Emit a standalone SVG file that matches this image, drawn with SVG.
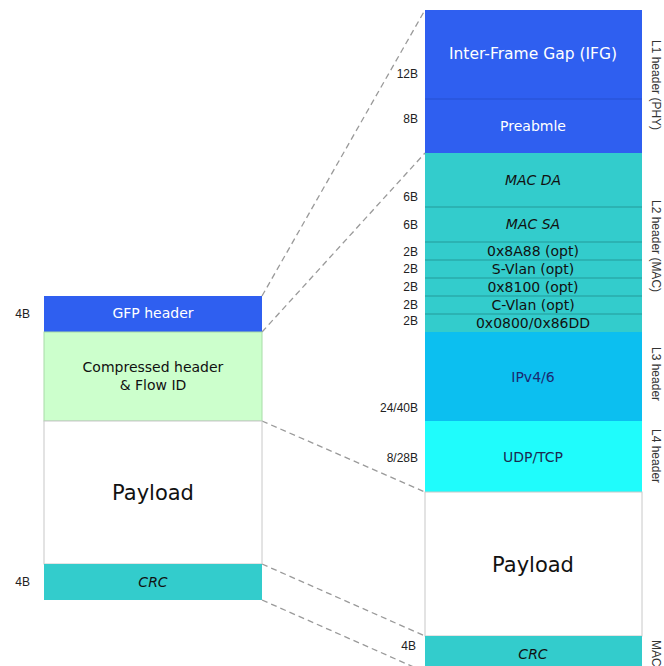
<svg xmlns="http://www.w3.org/2000/svg" width="664" height="666" viewBox="0 0 664 666">
<style>
.lbl{font-family:"Liberation Sans",Arial,sans-serif;font-size:12px;fill:#222;text-anchor:end}
.side{font-family:"Liberation Sans",Arial,sans-serif;font-size:12px;fill:#333}
.bt{font-family:"DejaVu Sans","Noto Sans",sans-serif;font-size:14px;text-anchor:middle}
.w{fill:#ffffff}
.d{fill:#111}
.big{font-size:21px}
.ifg{font-size:15.5px}
.conn{stroke:#9a9a9a;stroke-width:1.3;stroke-dasharray:6,4;fill:none}
.sep{stroke:#259a9a;stroke-width:1}
</style>
<rect width="664" height="666" fill="#ffffff"/>
<g id="connectors">
<line class="conn" x1="262" y1="296" x2="425" y2="10"/>
<line class="conn" x1="262" y1="332" x2="425" y2="153"/>
<line class="conn" x1="262" y1="421" x2="425" y2="492"/>
<line class="conn" x1="262" y1="564" x2="425" y2="636"/>
<line class="conn" x1="262" y1="600" x2="425" y2="672"/>
</g>
<g id="gfp-header">
<rect x="44" y="296" width="218" height="36" fill="#2f5ff0"/>
<text class="bt w" x="153" y="318">GFP header</text>
<text class="lbl" x="30" y="318">4B</text>
</g>
<g id="compressed-header">
<rect x="44" y="332" width="218" height="89" fill="#ccffcc" stroke="#a8dca8" stroke-width="1"/>
<text class="bt d" x="153" y="372">Compressed header</text>
<text class="bt d" x="153" y="390">&amp; Flow ID</text>
</g>
<g id="gfp-payload">
<rect x="44" y="421" width="218" height="143" fill="#ffffff" stroke="#c8c8c8" stroke-width="1"/>
<text class="bt d big" x="153" y="500">Payload</text>
</g>
<g id="gfp-crc">
<rect x="44" y="564" width="218" height="36" fill="#33cccc"/>
<text class="bt d" x="153" y="587" font-style="italic">CRC</text>
<text class="lbl" x="30" y="586">4B</text>
</g>
<g id="ifg">
<rect x="425" y="10" width="217" height="89" fill="#2f5ff0"/>
<text class="bt w ifg" x="533" y="59">Inter-Frame Gap (IFG)</text>
<text class="lbl" x="418" y="78">12B</text>
</g>
<g id="preamble">
<rect x="425" y="99" width="217" height="54" fill="#2f5ff0"/>
<line x1="425" y1="99" x2="642" y2="99" stroke="#2650d0" stroke-width="1"/>
<text class="bt w" x="533" y="131">Preabmle</text>
<text class="lbl" x="418" y="123">8B</text>
</g>
<g id="mac-da">
<rect x="425" y="153" width="217" height="54" fill="#33cccc"/>
<text class="bt d" x="533" y="185" font-style="italic">MAC DA</text>
<text class="lbl" x="418" y="201">6B</text>
</g>
<g id="mac-sa">
<rect x="425" y="207" width="217" height="35" fill="#33cccc"/>
<line class="sep" x1="425" y1="207" x2="642" y2="207"/>
<text class="bt d" x="533" y="229" font-style="italic">MAC SA</text>
<text class="lbl" x="418" y="229">6B</text>
</g>
<g id="ethertype-8a88">
<rect x="425" y="242" width="217" height="18" fill="#33cccc"/>
<line class="sep" x1="425" y1="242" x2="642" y2="242"/>
<text class="bt d" x="533" y="256">0x8A88 (opt)</text>
<text class="lbl" x="418" y="256">2B</text>
</g>
<g id="s-vlan">
<rect x="425" y="260" width="217" height="18" fill="#33cccc"/>
<line class="sep" x1="425" y1="260" x2="642" y2="260"/>
<text class="bt d" x="533" y="274">S-Vlan (opt)</text>
<text class="lbl" x="418" y="273">2B</text>
</g>
<g id="ethertype-8100">
<rect x="425" y="278" width="217" height="18" fill="#33cccc"/>
<line class="sep" x1="425" y1="278" x2="642" y2="278"/>
<text class="bt d" x="533" y="292">0x8100 (opt)</text>
<text class="lbl" x="418" y="291">2B</text>
</g>
<g id="c-vlan">
<rect x="425" y="296" width="217" height="18" fill="#33cccc"/>
<line class="sep" x1="425" y1="296" x2="642" y2="296"/>
<text class="bt d" x="533" y="310">C-Vlan (opt)</text>
<text class="lbl" x="418" y="309">2B</text>
</g>
<g id="ethertype-ip">
<rect x="425" y="314" width="217" height="18" fill="#33cccc"/>
<line class="sep" x1="425" y1="314" x2="642" y2="314"/>
<text class="bt d" x="533" y="328">0x0800/0x86DD</text>
<text class="lbl" x="418" y="325">2B</text>
</g>
<g id="ip">
<rect x="425" y="332" width="217" height="89" fill="#0cbff0"/>
<text class="bt" x="533" y="382" fill="#1a2a70">IPv4/6</text>
<text class="lbl" x="418" y="412">24/40B</text>
</g>
<g id="udp-tcp">
<rect x="425" y="421" width="217" height="71" fill="#1ffcfc"/>
<text class="bt" x="533" y="462" fill="#1a2a50">UDP/TCP</text>
<text class="lbl" x="418" y="462">8/28B</text>
</g>
<g id="eth-payload">
<rect x="425" y="492" width="217" height="144" fill="#ffffff" stroke="#c8c8c8" stroke-width="1"/>
<text class="bt d big" x="533" y="572">Payload</text>
</g>
<g id="eth-crc">
<rect x="425" y="636" width="217" height="32" fill="#33cccc"/>
<text class="bt d" x="533" y="659" font-style="italic">CRC</text>
<text class="lbl" x="416" y="650">4B</text>
</g>
<g id="layer-labels">
<text class="side" transform="translate(652,40) rotate(90)">L1 header (PHY)</text>
<text class="side" transform="translate(652,200) rotate(90)">L2 header (MAC)</text>
<text class="side" transform="translate(652,347) rotate(90)">L3 header</text>
<text class="side" transform="translate(652,429) rotate(90)">L4 header</text>
<text class="side" transform="translate(652,640) rotate(90)">MAC</text>
</g>
</svg>
